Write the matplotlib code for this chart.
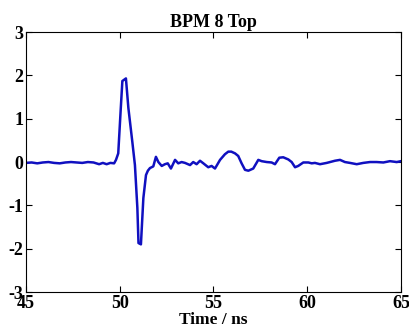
import matplotlib
matplotlib.use("Agg")
import matplotlib.pyplot as plt

time_ns = [45.0, 45.3, 45.6, 45.9, 46.2, 46.5, 46.8, 47.1, 47.4, 47.7, 48.0, 48.3, 48.6, 48.9, 49.1, 49.3, 49.5, 49.7,
           49.8, 49.92, 50.05, 50.14, 50.33, 50.46, 50.67, 50.81, 50.94, 51.0, 51.13, 51.26, 51.4, 51.5, 51.61, 51.79,
           51.93, 52.06, 52.24, 52.41, 52.56, 52.73, 52.95, 53.12, 53.3, 53.48, 53.75, 53.92, 54.1, 54.28, 54.46,
           54.72, 54.9, 55.08, 55.35, 55.61, 55.79, 55.95, 56.15, 56.32, 56.5, 56.68, 56.86, 57.12, 57.39, 57.57,
           57.84, 58.1, 58.28, 58.51, 58.72, 58.99, 59.17, 59.35, 59.52, 59.79, 60.06, 60.24, 60.41, 60.68, 61.04,
           61.48, 61.75, 62.01, 62.28, 62.64, 62.99, 63.35, 63.7, 64.06, 64.41, 64.77, 65.0]
signal = [-0.02, -0.01, -0.03, -0.01, 0.0, -0.02, -0.03, -0.01, 0.0, -0.01, -0.02, 0.0, -0.01, -0.05, -0.02, -0.05, -0.02, -0.03,
          0.05, 0.2, 1.2, 1.87, 1.93, 1.25, 0.47, -0.07, -1.06, -1.87, -1.9, -0.83, -0.3, -0.2, -0.14, -0.1,
          0.12, 0.0, -0.09, -0.05, -0.03, -0.15, 0.05, -0.03, 0.0, -0.02, -0.07, 0.0, -0.05, 0.03, -0.03,
          -0.12, -0.09, -0.15, 0.05, 0.18, 0.24, 0.24, 0.2, 0.14, -0.03, -0.18, -0.2, -0.15, 0.05, 0.02,
          0.0, -0.01, -0.05, 0.1, 0.11, 0.06, 0.0, -0.12, -0.09, -0.01, -0.01, -0.03, -0.02, -0.05, -0.02,
          0.03, 0.05, 0.0, -0.02, -0.05, -0.02, 0.0, 0.0, -0.01, 0.02, 0.0, 0.02]

title = "BPM 8 Top"
xlabel = "Time / ns"
xticks = [45, 50, 55, 60, 65]
yticks = [-3, -2, -1, 0, 1, 2, 3]

plt.rcParams['font.family'] = ['Liberation Serif', 'DejaVu Serif']
plt.rcParams['font.weight'] = 'bold'
plt.rcParams['axes.unicode_minus'] = False

fig = plt.figure(figsize=(4.1, 3.34), dpi=100)
ax = fig.add_axes([0.0634, 0.1257, 0.9146, 0.7783])
ax.plot(time_ns, signal, color='#1010c0', linewidth=1.8)
ax.set_xlim(45, 65)
ax.set_ylim(-3, 3)
ax.set_xticks(xticks)
ax.set_yticks(yticks)
ax.tick_params(direction='in', top=True, right=True, length=4, width=0.8, labelsize=13, pad=2)
for lab in ax.get_xticklabels() + ax.get_yticklabels():
    lab.set_fontweight('bold')
ax.set_title(title, fontsize=13, fontweight='bold', pad=4)
ax.set_xlabel(xlabel, fontsize=12.5, fontweight='bold', labelpad=0)
for s in ax.spines.values():
    s.set_linewidth(0.8)
fig.savefig("out.png", dpi=100)
